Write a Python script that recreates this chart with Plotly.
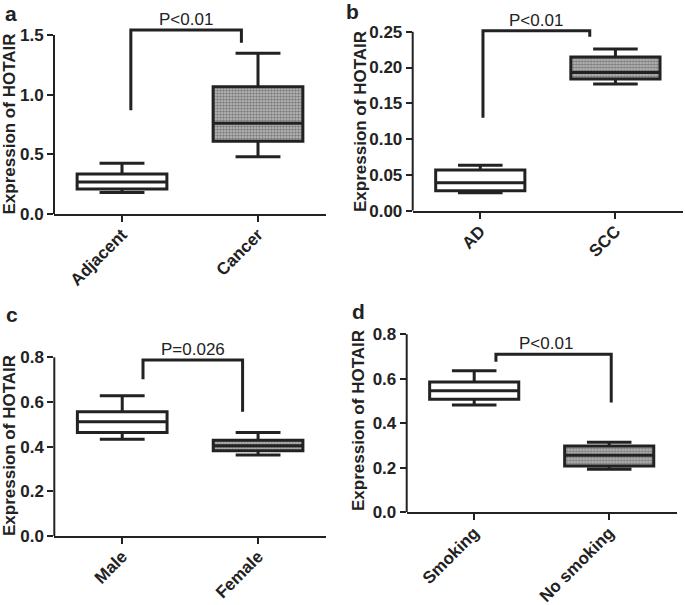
import plotly.graph_objects as go

# ---- data ----
cats_a = ["Adjacent", "Cancer"]
q1_a = [0.21, 0.61]
med_a = [0.268, 0.76]
q3_a = [0.335, 1.067]
lo_a = [0.18, 0.48]
hi_a = [0.425, 1.347]

cats_b = ["AD", "SCC"]
q1_b = [0.028, 0.184]
med_b = [0.039, 0.193]
q3_b = [0.0568, 0.2147]
lo_b = [0.025, 0.177]
hi_b = [0.0634, 0.226]

cats_c = ["Male", "Female"]
q1_c = [0.463, 0.382]
med_c = [0.512, 0.404]
q3_c = [0.557, 0.4285]
lo_c = [0.433, 0.363]
hi_c = [0.628, 0.463]

cats_d = ["Smoking", "No smoking"]
q1_d = [0.508, 0.208]
med_d = [0.5466, 0.256]
q3_d = [0.5856, 0.298]
lo_d = [0.482, 0.193]
hi_d = [0.636, 0.3146]

# significance brackets: x_left, x_right, y_left_end, y_top, y_right_end
br_a = [0.065, 0.878, 0.87, 1.542, 1.436]
br_b = [0.02, 0.81, 0.130, 0.2514, 0.243]
br_c = [0.153, 0.886, 0.702, 0.788, 0.557]
br_d = [0.161, 1.015, 0.677, 0.710, 0.494]
p_texts = ["P<0.01", "P<0.01", "P=0.026", "P<0.01"]
p_text_x = [0.47, 0.415, 0.52, 0.535]

yticks_a = [0.0, 0.5, 1.0, 1.5]
yticks_b = [0.00, 0.05, 0.10, 0.15, 0.20, 0.25]
yticks_c = [0.0, 0.2, 0.4, 0.6, 0.8]
yticks_d = [0.0, 0.2, 0.4, 0.6, 0.8]

panel_letters = ["a", "b", "c", "d"]

# ---- layout geometry ----
W, H = 685, 605
FONT = "Liberation Sans, Arial, sans-serif"
INK = "#222222"

panels = [
    dict(cats=cats_a, q1=q1_a, med=med_a, q3=q3_a, lo=lo_a, hi=hi_a, br=br_a,
         yt=yticks_a, fmt=".1f", yr=[0, 1.6],
         xd=[54 / W, 326 / W], yd=[1 - 214 / H, 1 - 23.1 / H],
         title_xy=(9, 124.5), letter_xy=(11, 14)),
    dict(cats=cats_b, q1=q1_b, med=med_b, q3=q3_b, lo=lo_b, hi=hi_b, br=br_b,
         yt=yticks_b, fmt=".2f", yr=[0, 0.265],
         xd=[412.7 / W, 683 / W], yd=[1 - 210.7 / H, 1 - 21.0 / H],
         title_xy=(360, 122), letter_xy=(353, 12)),
    dict(cats=cats_c, q1=q1_c, med=med_c, q3=q3_c, lo=lo_c, hi=hi_c, br=br_c,
         yt=yticks_c, fmt=".1f", yr=[0, 0.82],
         xd=[54.3 / W, 326 / W], yd=[1 - 536 / H, 1 - 352.9 / H],
         title_xy=(9, 446), letter_xy=(12, 314)),
    dict(cats=cats_d, q1=q1_d, med=med_d, q3=q3_d, lo=lo_d, hi=hi_d, br=br_d,
         yt=yticks_d, fmt=".1f", yr=[0, 0.82],
         xd=[406.7 / W, 676.7 / W], yd=[1 - 512.3 / H, 1 - 329.85 / H],
         title_xy=(358, 421), letter_xy=(358, 311)),
]

fig = go.Figure()
annotations = []
shapes = []
BOXW = 0.66

for i, p in enumerate(panels):
    n = i + 1
    xa = "x" if n == 1 else f"x{n}"
    ya = "y" if n == 1 else f"y{n}"
    xpos = list(range(len(p["cats"])))

    # patterned fill for the second group (bar spanning q1..q3)
    fig.add_trace(go.Bar(
        x=[xpos[1]], base=[p["q1"][1]], y=[p["q3"][1] - p["q1"][1]],
        width=BOXW, xaxis=xa, yaxis=ya, showlegend=False,
        marker=dict(color="#b0b0b0", line=dict(width=0),
                    pattern=dict(shape=".", fgcolor="#333333", bgcolor="#c4c4c4",
                                 size=3, solidity=0.6)),
        hoverinfo="skip"))

    fig.add_trace(go.Box(
        x=xpos, q1=p["q1"], median=p["med"], q3=p["q3"],
        lowerfence=p["lo"], upperfence=p["hi"],
        width=BOXW, whiskerwidth=0.5, boxpoints=False,
        fillcolor="rgba(0,0,0,0)", line=dict(color=INK, width=3),
        xaxis=xa, yaxis=ya, showlegend=False))

    b = p["br"]
    fig.add_trace(go.Scatter(
        x=[b[0], b[0], b[1], b[1]], y=[b[2], b[3], b[3], b[4]],
        mode="lines", line=dict(color=INK, width=3),
        xaxis=xa, yaxis=ya, showlegend=False, hoverinfo="skip"))

    annotations.append(dict(
        x=p_text_x[i], y=b[3], xref=xa, yref=ya, text=p_texts[i],
        showarrow=False, xanchor="center", yanchor="bottom", yshift=-1,
        font=dict(family=FONT, size=17, color=INK)))

    annotations.append(dict(
        x=p["title_xy"][0] / W, y=1 - p["title_xy"][1] / H, xref="paper", yref="paper",
        text="Expression of HOTAIR", textangle=-90, showarrow=False,
        xanchor="center", yanchor="middle",
        font=dict(family=FONT, size=17, color=INK, weight="bold")))

    annotations.append(dict(
        x=p["letter_xy"][0] / W, y=1 - p["letter_xy"][1] / H, xref="paper", yref="paper",
        text=panel_letters[i], showarrow=False, xanchor="center", yanchor="middle",
        font=dict(family=FONT, size=21, color=INK, weight="bold")))

    shapes.append(dict(
        type="line", xref=f"{xa} domain", yref=ya, x0=0, x1=0,
        y0=p["yt"][0], y1=p["yt"][-1], line=dict(color=INK, width=2)))

    axfont = dict(family=FONT, size=17, color=INK, weight="bold")
    fig.update_layout(**{
        ("xaxis" if n == 1 else f"xaxis{n}"): dict(
            domain=p["xd"], anchor=ya, range=[-0.5, 1.5], automargin=False,
            tickvals=xpos, ticktext=p["cats"], tickangle=-45,
            ticks="outside", ticklen=6, tickwidth=2, tickcolor=INK,
            ticklabelstandoff=-4,
            showline=True, linewidth=2, linecolor=INK,
            showgrid=False, zeroline=False, tickfont=axfont),
        ("yaxis" if n == 1 else f"yaxis{n}"): dict(
            domain=p["yd"], anchor=xa, range=p["yr"], automargin=False,
            tickvals=p["yt"], tickformat=p["fmt"],
            ticks="outside", ticklen=6, tickwidth=2, tickcolor=INK,
            showline=False, showgrid=False, zeroline=False, tickfont=axfont),
    })

fig.update_layout(
    width=W, height=H, margin=dict(l=0, r=0, t=0, b=0),
    paper_bgcolor="white", plot_bgcolor="white",
    annotations=annotations, shapes=shapes, showlegend=False,
    font=dict(family=FONT, color=INK),
)

fig.write_html("out.html", config={"displayModeBar": False},
               post_script="document.body.style.margin='0';")
